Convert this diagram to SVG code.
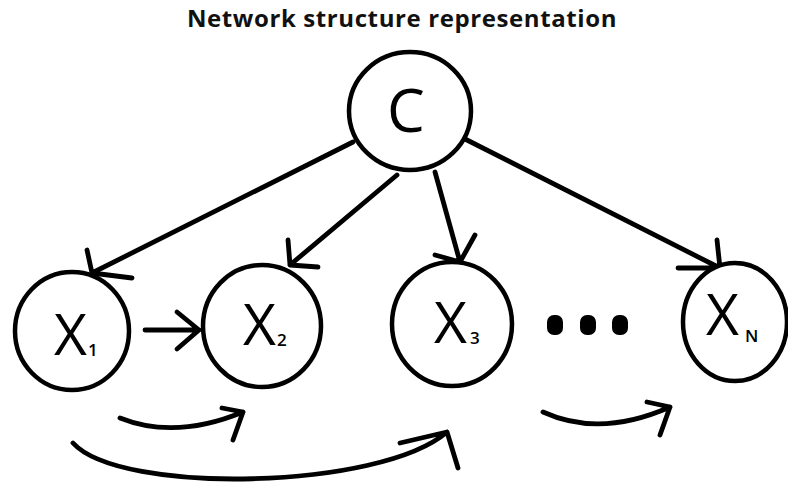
<svg xmlns="http://www.w3.org/2000/svg" width="788" height="486" viewBox="0 0 788 486">
  <style>
    .node { fill: #ffffff; stroke: #000000; stroke-width: 4.5; }
    .edge { fill: none; stroke: #000000; stroke-width: 4.8; stroke-linecap: round; stroke-linejoin: round; }
    .lbl { font-family: "Open Sans", "Liberation Sans", sans-serif; font-weight: 400; fill: #000000; }
    .sub { font-family: "Open Sans", "Liberation Sans", sans-serif; font-weight: 600; fill: #000000; }
    .title { font-family: "Open Sans", "Liberation Sans", sans-serif; font-weight: 700; font-size: 24px; letter-spacing: 0.6px; fill: #111111; }
    .dot { fill: #000000; }
  </style>
  <rect width="788" height="486" fill="#ffffff"/>

  <text class="title" x="402" y="27" text-anchor="middle">Network structure representation</text>

  <!-- connectors: hand-drawn style arrows with open heads -->
  <g id="connectors">
    <!-- C -> X1 -->
    <path class="edge" d="M353 142 L92 273 M87 250 L92 273 L132 278"/>
    <!-- C -> X2 -->
    <path class="edge" d="M397 175 L290 265 M288 240 L290 265 L318 267"/>
    <!-- C -> X3 -->
    <path class="edge" d="M435 172 L460 262 M435 255 L460 262 L475 235"/>
    <!-- C -> XN -->
    <path class="edge" d="M463 138 L720 268 M717 240 L720 268 L678 268"/>
    <!-- X1 -> X2 -->
    <path class="edge" d="M145 330 L199 330 M177 312 L199 330 L177 349"/>
    <!-- curved arrows below the row -->
    <path class="edge" d="M120 418 Q175 440 243 412 M222 408 L243 412 L233 440"/>
    <path class="edge" d="M73 443 C120 495 380 490 447 432 M400 443 L447 432 L458 468"/>
    <path class="edge" d="M543 412 Q600 438 670 407 M647 402 L670 407 L660 435"/>
  </g>

  <g id="node-c">
    <ellipse class="node" cx="410" cy="111" rx="61" ry="59"/>
    <text class="lbl" x="406" y="132" font-size="60" text-anchor="middle">C</text>
  </g>

  <g id="node-x1">
    <ellipse class="node" cx="72" cy="331" rx="57" ry="59"/>
    <text class="lbl" x="54" y="355" font-size="57">X</text>
    <text class="sub" x="88" y="356" font-size="17">1</text>
  </g>

  <g id="node-x2">
    <ellipse class="node" cx="262" cy="326" rx="59" ry="61"/>
    <text class="lbl" x="243" y="345" font-size="57">X</text>
    <text class="sub" x="277" y="346" font-size="17">2</text>
  </g>

  <g id="node-x3">
    <ellipse class="node" cx="452" cy="324" rx="60" ry="62"/>
    <text class="lbl" x="434" y="343" font-size="57">X</text>
    <text class="sub" x="470" y="344" font-size="17">3</text>
  </g>

  <g id="dots">
    <rect class="dot" x="547" y="315" width="16" height="20" rx="7"/>
    <rect class="dot" x="580" y="315" width="16" height="20" rx="7"/>
    <rect class="dot" x="612" y="315" width="16" height="20" rx="7"/>
  </g>

  <g id="node-xn">
    <ellipse class="node" cx="735" cy="322" rx="52" ry="59"/>
    <text class="lbl" x="706" y="335" font-size="57">X</text>
    <text class="sub" x="745" y="342" font-size="17" font-weight="700">N</text>
  </g>
</svg>
